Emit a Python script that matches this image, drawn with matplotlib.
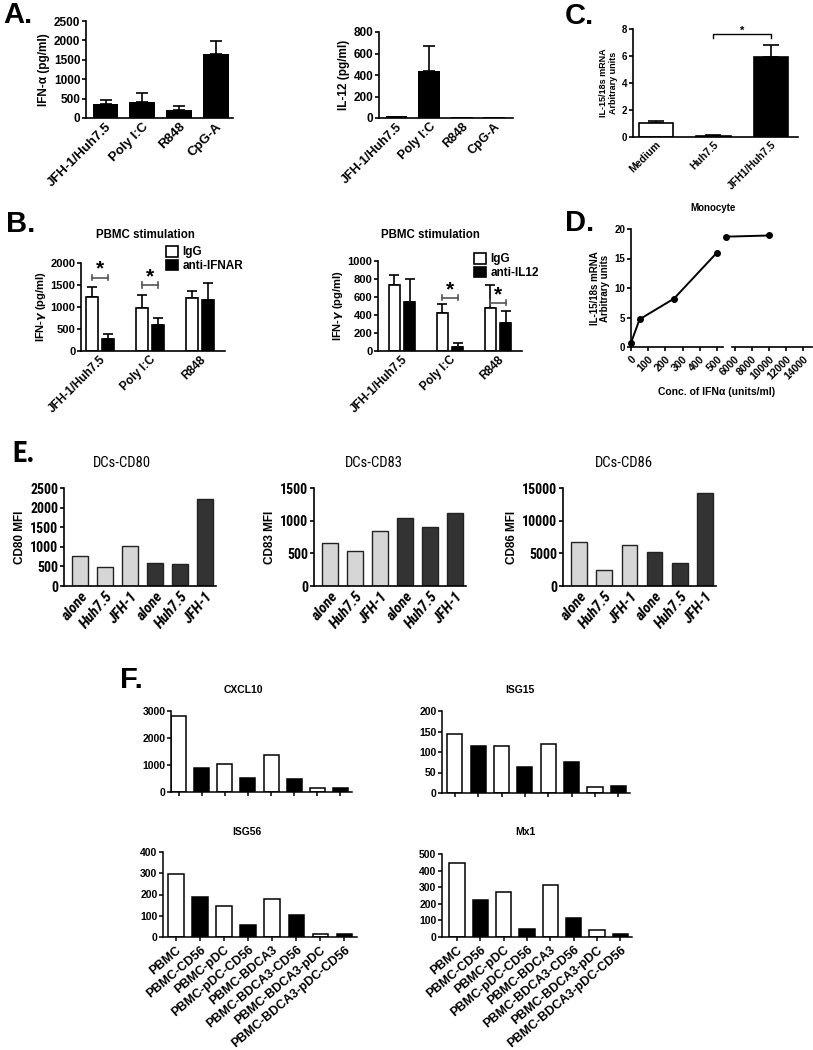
import matplotlib.pyplot as plt
import numpy as np
from matplotlib import font_manager
from matplotlib.patches import Patch

_names = {f.name for f in font_manager.fontManager.ttflist}
NARROW = "Liberation Sans"
for _n in ["Liberation Sans Narrow", "Roboto Condensed", "Open Sans Condensed"]:
    if _n in _names:
        NARROW = _n
        break

plt.rcParams["font.family"] = ["Liberation Sans", "DejaVu Sans"]
plt.rcParams["font.weight"] = "bold"
plt.rcParams["axes.labelweight"] = "bold"

# ---- data ----
# A
stim_a = ["JFH-1/Huh7.5", "Poly I:C", "R848", "CpG-A"]
ifna = [370, 420, 200, 1650]
ifna_err = [95, 230, 120, 340]
il12 = [15, 440, 12, 12]
il12_err = [0, 230, 0, 0]

# B
stim_b = ["JFH-1/Huh7.5", "Poly I:C", "R848"]
b1_igg = [1230, 980, 1200]
b1_igg_err = [220, 300, 160]
b1_anti = [270, 580, 1170]
b1_anti_err = [120, 160, 380]
b2_igg = [730, 420, 480]
b2_igg_err = [120, 100, 250]
b2_anti = [550, 50, 310]
b2_anti_err = [250, 40, 130]

# C
cells_c = ["Medium", "Huh7.5", "JFH1/Huh7.5"]
il15_c = [1.05, 0.1, 5.95]
il15_c_err = [0.15, 0.02, 0.9]

# D
conc_low = [0, 50, 250, 500]
il15_low = [0.7, 4.7, 8.2, 16.0]
conc_high = [5000, 10000]
il15_high = [18.7, 18.9]

# E
cells_e = ["alone", "Huh7.5", "JFH-1", "alone", "Huh7.5", "JFH-1"]
cd80 = [760, 490, 1030, 580, 560, 2230]
cd83 = [660, 540, 840, 1040, 910, 1120]
cd86 = [6800, 2400, 6200, 5200, 3500, 14200]

# F
cells_f = ["PBMC", "PBMC-CD56", "PBMC-pDC", "PBMC-pDC-CD56", "PBMC-BDCA3",
           "PBMC-BDCA3-CD56", "PBMC-BDCA3-pDC", "PBMC-BDCA3-pDC-CD56"]
cxcl10 = [2800, 900, 1050, 530, 1380, 500, 150, 130]
isg15 = [145, 115, 115, 63, 120, 75, 15, 17]
isg56 = [295, 190, 145, 55, 178, 102, 12, 15]
mx1 = [445, 225, 270, 50, 315, 115, 40, 20]

W, H = 813, 1050
fig = plt.figure(figsize=(W / 100, H / 100), dpi=100)


def add_ax(x0, y0, x1, y1):
    return fig.add_axes([x0 / W, 1 - y1 / H, (x1 - x0) / W, (y1 - y0) / H])


def ftext(x, y, s, **kw):
    return fig.text(x / W, 1 - y / H, s, **kw)


def prism(ax, fs, xtick_len=0, lw=1.2):
    for s in ["top", "right"]:
        ax.spines[s].set_visible(False)
    ax.spines["left"].set_linewidth(lw)
    ax.spines["bottom"].set_linewidth(lw)
    ax.tick_params(axis="y", direction="out", length=3, width=lw, labelsize=fs, pad=1)
    ax.tick_params(axis="x", direction="out", length=xtick_len, width=lw, labelsize=fs, pad=2)


def up_err(ax, x, y, e, cap=4):
    ax.errorbar(x, y, yerr=[np.zeros(len(e)), e], fmt="none", ecolor="k",
                elinewidth=1.2, capsize=cap, capthick=1.2, zorder=1)


def rot_labels(ax, labels, fs, rot=45, **kw):
    ax.set_xticklabels(labels, rotation=rot, ha="right", rotation_mode="anchor",
                       fontsize=fs, **kw)


# ---- panel letters ----
ftext(3, 23, "A.", fontsize=21, fontweight="bold")
ftext(6, 232, "B.", fontsize=21, fontweight="bold")
ftext(565, 24, "C.", fontsize=21, fontweight="bold")
ftext(565, 231, "D.", fontsize=21, fontweight="bold")
ftext(12, 462, "E.", fontsize=21, fontweight="bold", family=NARROW)
ftext(120, 688, "F.", fontsize=21, fontweight="bold")

# ---- A ----
ax = add_ax(86, 21, 233, 118)
x = np.arange(len(stim_a))
ax.bar(x, ifna, width=0.7, color="k", zorder=2)
up_err(ax, x, ifna, ifna_err)
ax.set_xlim(-0.53, 3.46)
ax.set_ylim(0, 2500)
ax.set_yticks(range(0, 2501, 500))
prism(ax, 8.5)
ax.set_xticks(x)
rot_labels(ax, stim_a, 9.5)
ax.set_ylabel("IFN-α (pg/ml)", fontsize=8.5, labelpad=3)

ax = add_ax(379, 32, 513, 118)
x = np.arange(len(stim_a))
ax.bar(x, il12, width=0.67, color="k", zorder=3)
up_err(ax, x[1:2], il12[1:2], il12_err[1:2])
ax.set_xlim(-0.54, 3.58)
ax.set_ylim(0, 800)
ax.set_yticks(range(0, 801, 200))
prism(ax, 8.5)
ax.set_xticks(x)
rot_labels(ax, stim_a, 9)
ax.set_ylabel("IL-12 (pg/ml)", fontsize=8.5, labelpad=3)

# ---- C ----
ax = add_ax(633, 29, 798, 137)
x = np.arange(len(cells_c))
ax.bar(x, il15_c, width=0.6, color=["white", "#222222", "black"],
       edgecolor="k", linewidth=1.2, zorder=2)
up_err(ax, x, il15_c, il15_c_err, cap=6)
ax.plot([1, 1, 2, 2], [7.3, 7.6, 7.6, 7.3], color="k", lw=1, clip_on=False)
ax.text(1.5, 7.85, "*", ha="center", va="center", fontsize=8)
ax.set_xlim(-0.4, 2.47)
ax.set_ylim(0, 8)
ax.set_yticks(range(0, 9, 2))
prism(ax, 7)
ax.set_xticks(x)
rot_labels(ax, cells_c, 7.5)
ax.set_ylabel("IL-15/18s mRNA\nArbitrary units", fontsize=6.5, labelpad=3, linespacing=1.1)

# ---- B ----
def panel_b(box, igg, igg_e, anti, anti_e, ymax, step, xlim, anti_name, stars, leg_xy, title_x):
    ax = add_ax(*box)
    x = np.arange(len(stim_b))
    off = 0.16
    ax.bar(x - off, igg, width=0.24, color="white", edgecolor="k", linewidth=1.2, zorder=2)
    ax.bar(x + off, anti, width=0.24, color="black", edgecolor="k", linewidth=1.2, zorder=2)
    up_err(ax, x - off, igg, igg_e, cap=3.5)
    up_err(ax, x + off, anti, anti_e, cap=3.5)
    for g, yb, ys in stars:
        ax.plot([g - off, g + off], [yb, yb], color="#555555", lw=1.2, clip_on=False)
        ax.plot([g - off, g - off], [yb - ymax * 0.03, yb + ymax * 0.03], color="#555555", lw=1.2, clip_on=False)
        ax.plot([g + off, g + off], [yb - ymax * 0.03, yb + ymax * 0.03], color="#555555", lw=1.2, clip_on=False)
        ax.text(g, ys, "*", ha="center", va="center", fontsize=15, clip_on=False)
    ax.set_xlim(*xlim)
    ax.set_ylim(0, ymax)
    ax.set_yticks(range(0, ymax + 1, step))
    prism(ax, 8)
    ax.set_xticks(x)
    rot_labels(ax, stim_b, 8.5)
    ax.set_ylabel("IFN-$\\gamma$ (pg/ml)", fontsize=8, labelpad=2)
    ftext(title_x, 235, "PBMC stimulation", fontsize=8.3, fontweight="bold",
          ha="center", va="center")
    handles = [Patch(facecolor="white", edgecolor="k", linewidth=1.2, label="IgG"),
               Patch(facecolor="black", edgecolor="k", linewidth=1.2, label=anti_name)]
    ax.legend(handles=handles, loc="upper left",
              bbox_to_anchor=(leg_xy[0] / W, 1 - leg_xy[1] / H),
              bbox_transform=fig.transFigure, frameon=False,
              fontsize=8.5, handlelength=1.0, handleheight=1.0,
              handletextpad=0.4, borderpad=0, borderaxespad=0, labelspacing=0.1)
    return ax


panel_b((81, 263, 225, 351), b1_igg, b1_igg_err, b1_anti, b1_anti_err, 2000, 500,
        (-0.37, 2.51), "anti-IFNAR",
        [(0, 1666, 1860), (1, 1500, 1690)], (166, 246), 145)
panel_b((378, 261, 522, 351), b2_igg, b2_igg_err, b2_anti, b2_anti_err, 1000, 200,
        (-0.5, 2.5), "anti-IL12",
        [(1, 592, 680), (2, 537, 620)], (474, 253), 430)

# ---- D ----
axl = add_ax(631, 229, 723, 347)
axl.plot(conc_low, il15_low, color="k", lw=1.4, marker="o", markersize=4, clip_on=False, zorder=3)
axl.set_xlim(0, 535)
axl.set_ylim(0, 20)
axl.set_yticks(range(0, 21, 5))
axl.set_xticks(range(0, 501, 100))
prism(axl, 7, xtick_len=3)
rot_labels(axl, [str(v) for v in range(0, 501, 100)], 7.5)
axl.set_ylabel("IL-15/18s mRNA\nArbitrary units", fontsize=7, labelpad=3, linespacing=1.1)
ftext(713, 208, "Monocyte", fontsize=7, fontweight="bold", ha="center", va="center")

axr = add_ax(726, 229, 812, 347)
axr.plot(conc_high, il15_high, color="k", lw=1.4, marker="o", markersize=4, clip_on=False, zorder=3)
axr.set_xlim(5000, 15000)
axr.set_ylim(0, 20)
prism(axr, 7, xtick_len=3)
axr.spines["left"].set_visible(False)
axr.spines["bottom"].set_bounds(5700, 15000)
axr.set_yticks([])
axr.set_xticks(range(6000, 14001, 2000))
rot_labels(axr, [str(v) for v in range(6000, 14001, 2000)], 7.5)
ftext(717, 392, "Conc. of IFNα (units/ml)", fontsize=7.5, fontweight="bold", ha="center", va="center")

# ---- E ----
e_colors = ["#d6d6d6"] * 3 + ["#333333"] * 3
e_fs = 10 if NARROW != "Liberation Sans" else 8.5
for box, vals, ymax, step, title, tx, ylab in [
    ((64, 488, 216, 586), cd80, 2500, 500, "DCs-CD80", 122, "CD80 MFI"),
    ((314, 488, 466, 586), cd83, 1500, 500, "DCs-CD83", 374, "CD83 MFI"),
    ((563, 488, 716, 586), cd86, 15000, 5000, "DCs-CD86", 624, "CD86 MFI"),
]:
    ax = add_ax(*box)
    x = np.arange(len(cells_e))
    ax.bar(x, vals, width=0.63, color=e_colors, edgecolor="#222222", linewidth=1, zorder=2)
    ax.set_xlim(-0.65, 5.45)
    ax.set_ylim(0, ymax)
    ax.set_yticks(range(0, ymax + 1, step))
    prism(ax, e_fs)
    for lab in ax.get_yticklabels():
        lab.set_family(NARROW)
    ax.set_xticks(x)
    rot_labels(ax, cells_e, e_fs + 1, rot=50, family=NARROW, style="italic")
    ax.set_ylabel(ylab, fontsize=8.5, labelpad=3)
    ftext(tx, 463, title, fontsize=e_fs + 0.5, fontweight="normal", family=NARROW,
          ha="center", va="center")

# ---- F ----
f_colors = ["white", "black"] * 4
for box, vals, ymax, step, title, tx, ty, xlim, show in [
    ((171, 711, 352, 792), cxcl10, 3000, 1000, "CXCL10", 243, 690, (-0.33, 7.5), False),
    ((442, 711, 630, 793), isg15, 200, 50, "ISG15", 520, 690, (-0.55, 7.5), False),
    ((163, 852, 357, 937), isg56, 400, 100, "ISG56", 247, 832, (-0.54, 7.52), True),
    ((442, 854, 632, 937), mx1, 500, 100, "Mx1", 525, 832, (-0.64, 7.5), True),
]:
    ax = add_ax(*box)
    x = np.arange(len(cells_f))
    ax.bar(x, vals, width=0.65, color=f_colors, edgecolor="k", linewidth=1.1, zorder=2)
    ax.set_xlim(*xlim)
    ax.set_ylim(0, ymax)
    ax.set_yticks(range(0, ymax + 1, step))
    prism(ax, 7.5, xtick_len=3, lw=1.1)
    ax.set_xticks(x)
    if show:
        rot_labels(ax, cells_f, 9, rot=40)
    else:
        ax.set_xticklabels([])
    ftext(tx, ty, title, fontsize=7.5, fontweight="bold", ha="center", va="center")

fig.savefig("out.png", dpi=100)
